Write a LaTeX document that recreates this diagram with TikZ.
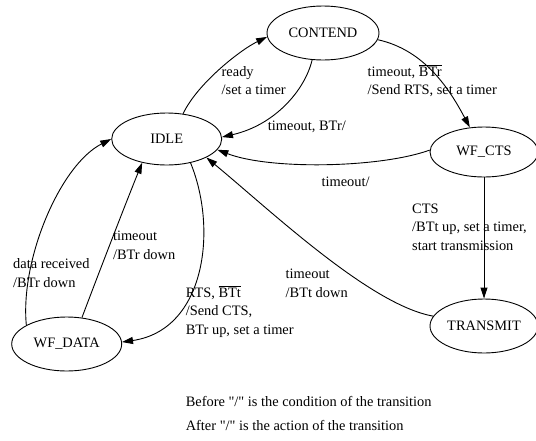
\documentclass[tikz,border=0pt]{standalone}
\usepackage{fontspec}
\setmainfont{Liberation Serif}
\usetikzlibrary{shapes.geometric,arrows.meta}
\begin{document}
\begin{tikzpicture}[x=1pt,y=-1pt,
  font=\fontsize{14.4}{18.5}\selectfont,
  state/.style={ellipse,draw,line width=0.9pt,inner sep=0pt},
  tr/.style={draw,line width=0.9pt,-{Triangle[length=11pt,width=7pt]}},
  lbl/.style={anchor=north west,inner sep=0pt,align=left}]
\useasboundingbox (0,0) rectangle (536,440);
\node[state,minimum width=112pt,minimum height=54pt] (contend) at (323,33) {CONTEND};
\node[state,minimum width=110pt,minimum height=52pt] (idle) at (166.7,139) {IDLE};
\node[state,minimum width=108pt,minimum height=50pt] (wfcts) at (484,152) {WF\_CTS};
\node[state,minimum width=108pt,minimum height=54pt] (transmit) at (484,326) {TRANSMIT};
\node[state,minimum width=110pt,minimum height=54pt] (wfdata) at (66.7,344) {WF\_DATA};

\draw[tr] (idle.57) .. controls (197,84) and (240,50) .. (contend.184);
\draw[tr] (contend.248) .. controls (305,90) and (275,125) .. (idle.2);
\draw[tr] (contend.353) .. controls (425,50) and (450,90) .. (wfcts.120);
\draw[tr] (wfcts.178) .. controls (380,168) and (270,170) .. (idle.348);
\draw[tr] (wfcts) -- (transmit);
\draw[tr] (transmit.169) .. controls (370,305) and (270,210) .. (idle.335);
\draw[tr] (idle.315) .. controls (218,230) and (205,330) .. (wfdata.2);
\draw[tr] (wfdata.60) .. controls (98,275) and (125,205) .. (idle.224);
\draw[tr] (wfdata.155) .. controls (20,260) and (60,165) .. (idle.180);

\node[lbl] (l1) at (221.5,63.3) {\strut ready\\\strut /set a timer};
\node[lbl] (l2) at (367.5,63.3) {\strut timeout, $\overline{\mbox{BTr}}$\\\strut /Send RTS, set a timer};
\node[lbl] (l3) at (267.7,117.6) {\strut timeout, BTr/};
\node[lbl] (l4) at (321.4,173.3) {\strut timeout/};
\node[lbl] (l5) at (412,199.9) {\strut CTS\\\strut /BTt up, set a timer,\\\strut start transmission};
\node[lbl] (l6) at (285.5,265.6) {\strut timeout\\\strut /BTt down};
\node[lbl] (l7) at (185.6,284.3) {\strut RTS, $\overline{\mbox{BTt}}$\\\strut /Send CTS,\\\strut BTr up, set a timer};
\node[lbl] (l8) at (112.8,227.6) {\strut timeout\\\strut /BTr down};
\node[lbl] (l9) at (13,255.6) {\strut data received\\\strut /BTr down};
\node[lbl] (before) at (185.6,393.3) {\strut Before \textquotedbl/\textquotedbl{} is the condition of the transition};
\node[lbl] (after) at (185.6,417.6) {\strut After \textquotedbl/\textquotedbl{} is the action of the transition};
\end{tikzpicture}
\end{document}
